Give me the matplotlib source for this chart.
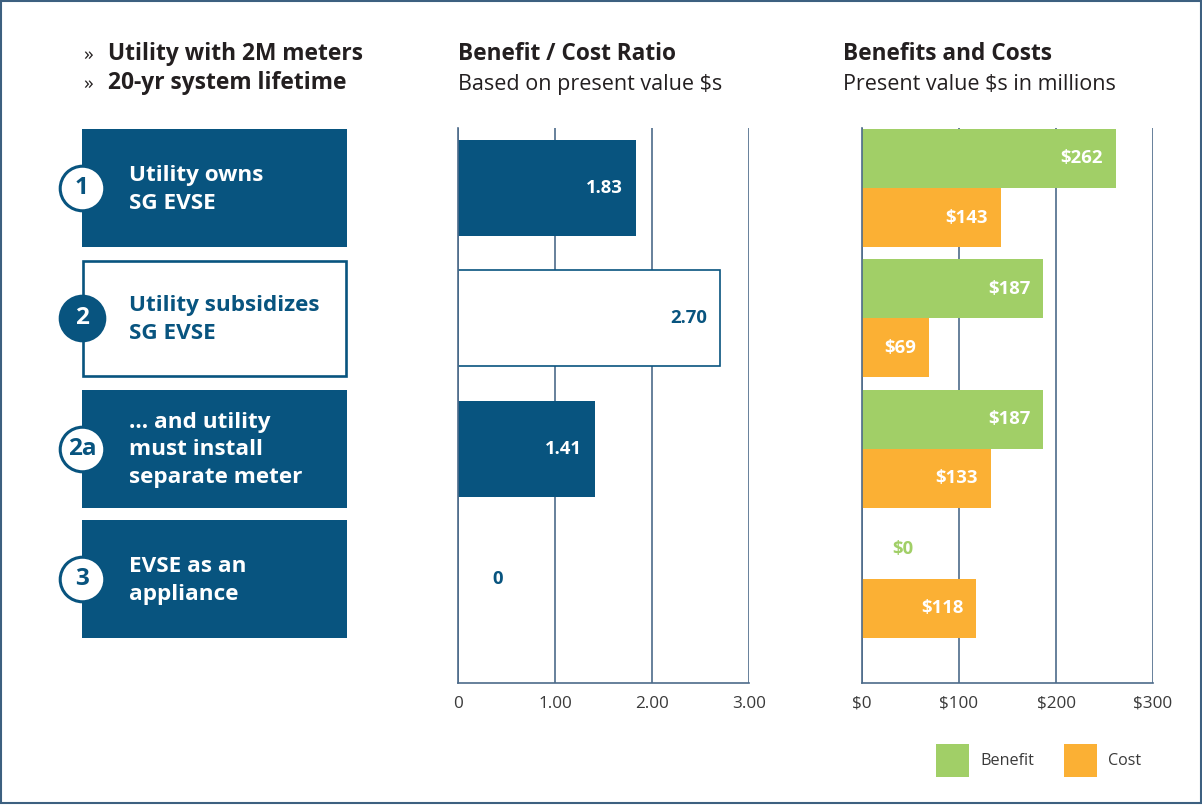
import matplotlib.pyplot as plt
from matplotlib.patches import Rectangle, Patch

plt.rcParams['font.family'] = ['Open Sans', 'DejaVu Sans']

# data
scenario_ids = ['1', '2', '2a', '3']
scenarios = ['Utility owns\nSG EVSE',
             'Utility subsidizes\nSG EVSE',
             '… and utility\nmust install\nseparate meter',
             'EVSE as an\nappliance']
ratio = [1.83, 2.70, 1.41, 0]
ratio_labels = ['1.83', '2.70', '1.41', '0']
benefit = [262, 187, 187, 0]
cost = [143, 69, 133, 118]
ratio_ticks = [0, 1, 2, 3]
ratio_ticklabels = ['0', '1.00', '2.00', '3.00']
money_ticks = [0, 100, 200, 300]
money_ticklabels = ['$0', '$100', '$200', '$300']

BLUE = '#08547f'
GREEN = '#a1cf67'
ORANGE = '#fbb034'
GRID = '#4d6b8a'
DARK = '#231f20'
GRAY = '#3a3a3a'

W, H = 1202, 805
fig = plt.figure(figsize=(W / 100, H / 100), dpi=100)

def fx(px):
    return px / W

def fy(py):
    return 1 - py / H

ax_top, ax_bot = 128, 683
ylim = (3.799, -0.4605)
ypos = list(range(len(scenarios)))

# left panel with scenario boxes (x in pixels)
ax0 = fig.add_axes([0, fy(ax_bot), fx(458), fy(ax_top) - fy(ax_bot)])
ax0.set_xlim(0, 458)
ax0.set_ylim(*ylim)
ax0.axis('off')
box_h = 0.906
for i, (sid, name) in enumerate(zip(scenario_ids, scenarios)):
    filled = sid != '2'
    if filled:
        ax0.add_patch(Rectangle((82, i - box_h / 2), 265, box_h, fc=BLUE, ec='none'))
    else:
        ax0.add_patch(Rectangle((83.3, i - box_h / 2 + 0.01), 262.4, box_h - 0.02,
                                fc='white', ec=BLUE, lw=1.9))
    ax0.text(129, i + 0.01, name, color='white' if filled else BLUE, fontsize=16.2,
             fontweight='bold', va='center', ha='left', linespacing=1.43)
    ax0.scatter([82], [i], s=1030, c=BLUE if not filled else 'white',
                edgecolors=BLUE, linewidths=2.2, zorder=3)
    ax0.text(82, i, sid, color='white' if not filled else BLUE, fontsize=17.5,
             fontweight='bold', va='center', ha='center', zorder=4)

# top left notes
for py, txt in [(60, 'Utility with 2M meters'), (89, '20-yr system lifetime')]:
    fig.text(fx(83), fy(py), '»', fontsize=14, color=DARK, va='baseline')
    fig.text(fx(108), fy(py), txt, fontsize=16.4, fontweight='bold', color=DARK, va='baseline')

# headers
for px, title, sub in [(458, 'Benefit / Cost Ratio', 'Based on present value $s'),
                       (843, 'Benefits and Costs', 'Present value $s in millions')]:
    fig.text(fx(px), fy(60.5), title, fontsize=16.3, fontweight='bold', color=DARK, va='baseline')
    fig.text(fx(px), fy(90), sub, fontsize=15.5, color=DARK, va='baseline')


def style_axis(ax, ticks, labels):
    ax.set_ylim(*ylim)
    ax.set_xlim(ticks[0], ticks[-1])
    ax.set_xticks(ticks)
    ax.set_xticklabels(labels)
    ax.set_yticks([])
    ax.tick_params(axis='x', length=0, pad=9, labelsize=12.3, labelcolor=GRAY)
    ax.xaxis.grid(True, color=GRID, lw=1.2)
    ax.set_axisbelow(True)
    for s in ['top', 'right']:
        ax.spines[s].set_visible(False)
    for s in ['left', 'bottom']:
        ax.spines[s].set_color(GRID)
        ax.spines[s].set_linewidth(1.2)


# benefit / cost ratio
ax1 = fig.add_axes([fx(458), fy(ax_bot), fx(749) - fx(458), fy(ax_top) - fy(ax_bot)])
style_axis(ax1, ratio_ticks, ratio_ticklabels)
for i, (v, lab) in enumerate(zip(ratio, ratio_labels)):
    hollow = scenario_ids[i] == '2'
    ax1.barh(i, v, height=0.737, color='white' if hollow else BLUE,
             edgecolor=BLUE, linewidth=1.2 if hollow else 0, zorder=2)
    if v > 0:
        ax1.annotate(lab, (v, i), xytext=(-9, 0), textcoords='offset points',
                     ha='right', va='center', fontsize=13.3, fontweight='bold',
                     color=BLUE if hollow else 'white', zorder=3)
    else:
        ax1.annotate(lab, (v, i), xytext=(24.5, 0), textcoords='offset points',
                     ha='left', va='center', fontsize=13.3, fontweight='bold', color=BLUE)

# benefits and costs
ax2 = fig.add_axes([fx(862), fy(ax_bot), fx(1153) - fx(862), fy(ax_top) - fy(ax_bot)])
style_axis(ax2, money_ticks, money_ticklabels)
bh = 0.453
off = 0.2265
ax2.barh([y - off for y in ypos], benefit, height=bh, color=GREEN, zorder=2)
ax2.barh([y + off for y in ypos], cost, height=bh, color=ORANGE, zorder=2)
for i in ypos:
    for v, y, col in [(benefit[i], i - off, GREEN), (cost[i], i + off, ORANGE)]:
        lab = f'${v}'
        if v > 0:
            ax2.annotate(lab, (v, y), xytext=(-9.5, 0), textcoords='offset points',
                         ha='right', va='center', fontsize=13.3, fontweight='bold',
                         color='white', zorder=3)
        else:
            ax2.annotate(lab, (v, y), xytext=(21.5, 0), textcoords='offset points',
                         ha='left', va='center', fontsize=13.3, fontweight='bold', color=col)

# legend
handles = [Patch(fc=GREEN, ec='none', label='Benefit'),
           Patch(fc=ORANGE, ec='none', label='Cost')]
fig.legend(handles=handles, loc='lower left', bbox_to_anchor=(fx(936), fy(777)),
           ncol=2, frameon=False, fontsize=11.6, handlelength=2.05, handleheight=2.78,
           handletextpad=0.68, columnspacing=1.86, borderpad=0, borderaxespad=0,
           labelcolor=GRAY)

# outer frame
fig.patches.append(Rectangle((0.0012, 0.0025), 0.9976, 0.996, transform=fig.transFigure,
                             fill=False, ec='#3d6080', lw=1.5))

fig.savefig('out.png', dpi=100)
